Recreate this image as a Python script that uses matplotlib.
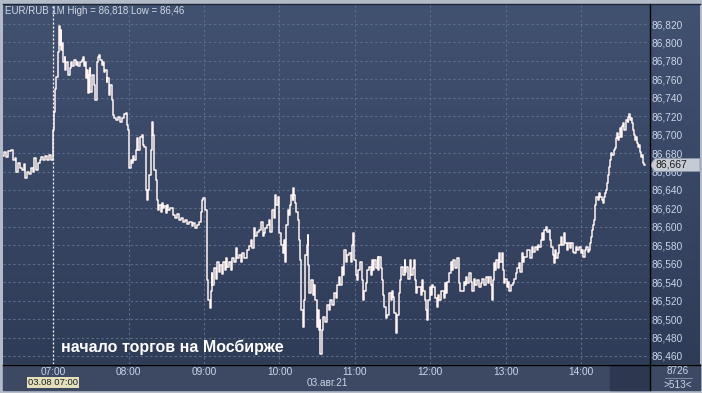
import numpy as np
import matplotlib
matplotlib.use("Agg")
import matplotlib.pyplot as plt
from matplotlib.colors import LinearSegmentedColormap
from matplotlib.patches import Polygon, Rectangle
from matplotlib.lines import Line2D

# EUR/RUB, 1 minute bars, 03.08.21
# time = minutes after 06:20, price = traced high/low path of the bars
minutes = [
    0, 2, 3, 5, 7, 9, 10, 11, 13, 14,
    16, 17, 18, 20, 21, 23, 24, 25, 27, 29,
    30, 31, 33, 34, 36, 37, 39,
    # 07:00 - MOEX opening
    40, 40, 41, 42, 43, 44, 45, 46, 46, 47,
    47, 49, 49, 50, 51, 52, 54, 54, 56, 57,
    59, 59, 61, 62, 63, 64, 65, 66, 66, 67,
    68, 69, 69, 70, 72, 73, 74, 75, 75, 76,
    77, 78, 79, 80, 80, 82, 83, 83, 85, 86,
    87, 88, 89, 91, 92, 94, 95, 97, 98, 99,
    # 08:00
    100, 100, 101, 102, 103, 104, 105, 107, 107, 108,
    110, 111, 112, 113, 114, 115, 115, 117, 118, 119,
    119, 121, 122, 123, 124, 125, 126, 127, 127, 129,
    130, 131, 132, 134, 136, 138, 139, 141, 143, 144,
    146, 147, 149, 151, 152, 154, 155, 157, 158, 159,
    160, 162, 162, 163, 164, 165,
    166, 166, 167, 169, 170, 171, 172, 174, 174, 176,
    177, 178, 179, 181, 182, 183, 185, 186, 187, 189,
    190, 191, 193, 195, 197, 197, 199, 200, 201, 203,
    204, 206, 207, 208, 209, 211, 212, 213, 215, 216,
    217, 218, 219, 220, 220, 222, 223, 224, 225, 225,
    226, 227, 228, 229, 230, 231, 231, 232, 233, 234,
    235, 236, 237, 237, 238, 239, 240, 240, 241, 242,
    243, 243, 244, 246, 247, 248, 249, 250, 251, 252,
    252, 253, 254, 256, 257, 259, 260, 261, 263, 264,
    266, 266, 268, 269, 270, 271, 272, 274, 274, 276,
    277, 278, 279, 279, 280, 281, 282, 283, 285, 286,
    287, 288, 289, 290, 290, 292, 293, 294, 295, 296,
    298, 298, 299, 300, 301, 302, 303, 304, 305, 306,
    308, 309, 310, 311, 312, 313, 314, 316, 316, 318,
    319, 320, 320, 322, 323, 324, 326, 326, 328, 328,
    329, 330, 332, 333, 334, 335, 336, 337, 338, 339,
    340, 341, 342, 343, 344, 346, 346, 348, 349, 350,
    351, 352, 353, 354, 356, 357, 357, 359, 360, 362,
    363, 363, 364, 366, 367, 368, 369, 370, 372, 373,
    374, 375, 376,
    378.7, 379.5, 381.1, 381.9, 383.5, 385.1, 385.9, 387.5, 388.3, 389.8,
    390.6, 391.4, 392.2, 393.0, 394.6, 395.4, 396.2, 397.8, 398.6, 399.4,
    400.2, 401.8, 402.6, 403.4, 405.0, 405.8, 407.3, 408.9, 409.7, 411.3,
    412.1, 413.7, 414.5, 415.3, 416.9, 417.7, 419.3, 420.1, 421.7, 422.5,
    424.1, 424.9, 426.4, 427.2, 428.8, 429.6, 430.4, 431.2, 432.8, 433.6,
    435.2, 436.0, 436.8, 438.4, 439.2, 440.0, 440.8, 442.3, 443.1, 444.7,
    445.5, 447.1, 447.9, 449.5, 450.3, 451.9, 452.7, 454.3, 455.1, 456.7,
    457.5, 459.1, 459.9, 461.4, 462.2, 463.8, 464.6, 466.2, 467.0, 467.8,
    468.6, 469.4, 470.2, 471.0, 471.8, 472.6, 474.2, 475.0, 475.8, 477.4,
    478.1, 478.9, 479.7, 480.5, 481.3, 482.1, 482.9, 483.7, 484.5, 485.3,
    486.9, 487.7, 488.5, 489.3, 490.1, 490.9, 491.7, 492.5, 493.3, 494.1,
    494.9, 496.5, 497.3, 498.0, 498.8, 499.6, 500.4, 501.2, 502.0, 502.8,
    503.6, 504.4, 505.2, 506.0, 506.8, 507.6, 508.4, 509.2, 510.0, 510.8,
]
prices = [
    86.677, 86.681, 86.676, 86.682, 86.683, 86.672, 86.675, 86.659, 86.669, 86.664,
    86.662, 86.668, 86.653, 86.659, 86.657, 86.664, 86.660, 86.675, 86.662, 86.669,
    86.672, 86.676, 86.672, 86.677, 86.673, 86.678, 86.672,
    86.675, 86.705, 86.725, 86.750, 86.762, 86.790, 86.818, 86.797, 86.813, 86.792,
    86.799, 86.779, 86.784, 86.770, 86.779, 86.765, 86.772, 86.779, 86.774, 86.781,
    86.776, 86.779, 86.774, 86.779, 86.781, 86.784, 86.774, 86.779, 86.761, 86.770,
    86.745, 86.765, 86.772, 86.746, 86.765, 86.754, 86.738, 86.767, 86.779, 86.784,
    86.786, 86.781, 86.776, 86.779, 86.768, 86.770, 86.757, 86.761, 86.743, 86.754,
    86.738, 86.721, 86.718, 86.716, 86.719, 86.714, 86.718, 86.722, 86.723, 86.710,
    86.705, 86.672, 86.664, 86.672, 86.669, 86.677, 86.672, 86.683, 86.696, 86.683,
    86.698, 86.700, 86.689, 86.687, 86.640, 86.629, 86.640, 86.656, 86.683, 86.714,
    86.700, 86.662, 86.651, 86.629, 86.618, 86.624, 86.616, 86.626, 86.620, 86.623,
    86.615, 86.624, 86.618, 86.620, 86.613, 86.610, 86.614, 86.607, 86.610, 86.605,
    86.607, 86.603, 86.605, 86.601, 86.604, 86.599, 86.602, 86.605, 86.616, 86.629,
    86.631, 86.618, 86.575, 86.542, 86.521, 86.512,
    86.531, 86.550, 86.537, 86.555, 86.544, 86.562, 86.551, 86.559, 86.549, 86.562,
    86.553, 86.566, 86.557, 86.562, 86.553, 86.566, 86.562, 86.577, 86.566, 86.569,
    86.562, 86.572, 86.566, 86.575, 86.579, 86.586, 86.577, 86.599, 86.590, 86.594,
    86.597, 86.605, 86.590, 86.593, 86.599, 86.602, 86.607, 86.594, 86.618, 86.610,
    86.635, 86.624, 86.632, 86.613, 86.593, 86.580, 86.572, 86.586, 86.562, 86.580,
    86.602, 86.618, 86.613, 86.624, 86.635, 86.629, 86.642, 86.635, 86.626, 86.616,
    86.607, 86.586, 86.564, 86.531, 86.510, 86.491, 86.521, 86.542, 86.569, 86.580,
    86.591, 86.559, 86.528, 86.542, 86.526, 86.537, 86.521, 86.491, 86.510, 86.488,
    86.499, 86.462, 86.488, 86.502, 86.497, 86.515, 86.510, 86.521, 86.515, 86.528,
    86.523, 86.537, 86.546, 86.537, 86.556, 86.548, 86.575, 86.562, 86.569, 86.572,
    86.562, 86.580, 86.593, 86.575, 86.564, 86.548, 86.542, 86.553, 86.562, 86.542,
    86.521, 86.531, 86.539, 86.548, 86.553, 86.556, 86.548, 86.564, 86.553, 86.564,
    86.555, 86.567, 86.553, 86.567, 86.555, 86.542, 86.526, 86.513, 86.501, 86.504,
    86.528, 86.521, 86.531, 86.524, 86.507, 86.485, 86.504, 86.528, 86.542, 86.556,
    86.548, 86.564, 86.551, 86.556, 86.544, 86.564, 86.548, 86.555, 86.564, 86.542,
    86.528, 86.535, 86.535, 86.526, 86.542, 86.531, 86.521, 86.510, 86.499, 86.521,
    86.535, 86.526, 86.537, 86.535, 86.523, 86.513, 86.526, 86.521, 86.531, 86.531,
    86.523, 86.539, 86.528, 86.540, 86.550, 86.562, 86.553, 86.564, 86.555, 86.566,
    86.551, 86.539, 86.531, 86.531, 86.540, 86.537, 86.546, 86.539, 86.550, 86.540,
    86.531, 86.544, 86.537,
    86.542, 86.535, 86.539, 86.544, 86.537, 86.546, 86.539, 86.546, 86.537, 86.521,
    86.542, 86.561, 86.553, 86.564, 86.555, 86.572, 86.562, 86.572, 86.553, 86.539,
    86.544, 86.535, 86.540, 86.531, 86.537, 86.539, 86.544, 86.550, 86.555, 86.561,
    86.551, 86.572, 86.562, 86.567, 86.567, 86.575, 86.575, 86.566, 86.578, 86.573,
    86.578, 86.575, 86.580, 86.578, 86.586, 86.593, 86.586, 86.597, 86.600, 86.594,
    86.597, 86.586, 86.578, 86.569, 86.561, 86.575, 86.566, 86.572, 86.580, 86.589,
    86.580, 86.593, 86.583, 86.575, 86.582, 86.577, 86.582, 86.573, 86.572, 86.578,
    86.575, 86.578, 86.572, 86.575, 86.567, 86.575, 86.578, 86.573, 86.575, 86.582,
    86.589, 86.597, 86.602, 86.607, 86.624, 86.632, 86.629, 86.637, 86.632, 86.629,
    86.626, 86.632, 86.637, 86.640, 86.648, 86.656, 86.665, 86.672, 86.680, 86.678,
    86.683, 86.685, 86.696, 86.702, 86.694, 86.697, 86.707, 86.697, 86.709, 86.713,
    86.705, 86.716, 86.714, 86.719, 86.722, 86.716, 86.718, 86.713, 86.705, 86.700,
    86.694, 86.697, 86.691, 86.687, 86.689, 86.681, 86.676, 86.678, 86.669, 86.667,
]

hour_minutes = [40, 100, 160, 220, 280, 340, 400, 460]
hour_labels = ["07:00", "08:00", "09:00", "10:00", "11:00", "12:00", "13:00", "14:00"]
price_ticks = [86.46, 86.48, 86.50, 86.52, 86.54, 86.56, 86.58, 86.60, 86.62, 86.64,
               86.66, 86.68, 86.70, 86.72, 86.74, 86.76, 86.78, 86.80, 86.82]
open_minute = 40
last_price = 86.667
title = "EUR/RUB 1M High = 86,818 Low = 86,46"
note = "начало торгов на Мосбирже"

W, H = 702, 393
TXT = "#c9d5e8"
GRID = "#5c6b88"
FONT = "Liberation Sans"


def fr(x0, y0, x1, y1):
    # pixel box (top-left origin) -> figure fraction rect
    return [x0 / W, 1 - y1 / H, (x1 - x0) / W, (y1 - y0) / H]


fig = plt.figure(figsize=(W / 100, H / 100), dpi=100, facecolor="#b3bbc8")

# navy gradient behind plot and price panel
bg = fig.add_axes(fr(3, 4, 700, 364), zorder=-2)
cmap = LinearSegmentedColormap.from_list("navy", ["#415170", "#2f3c58"])
bg.imshow(np.linspace(0, 1, 200).reshape(-1, 1), cmap=cmap, aspect="auto",
          extent=[0, 1, 0, 1])
bg.axis("off")

# bottom time strip
fig.add_artist(Rectangle((3 / W, 1 - 390 / H), 697 / W, 26 / H,
                         transform=fig.transFigure, color="#3d4962", zorder=-1))
fig.add_artist(Rectangle((610 / W, 1 - 390 / H), 39 / W, 25 / H,
                         transform=fig.transFigure, color="#2d3850", zorder=-1))

ax = fig.add_axes(fr(3, 4, 649, 364))
ax.patch.set_alpha(0)
ax.set_xlim(0, 514)
ax.set_ylim(86.4513, 86.8417)

for p in price_ticks:
    ax.axhline(p, color=GRID, lw=0.8, ls=(0, (2.2, 2.2)), zorder=1)
for m in hour_minutes[1:]:
    ax.axvline(m, color=GRID, lw=0.8, ls=(0, (2.2, 2.2)), zorder=1)
ax.axvline(open_minute, color="white", lw=0.9, ls=(0, (1.6, 1.6)), zorder=2)

ax.plot(minutes, prices, color="#fff3f3", lw=1.1, drawstyle="steps-mid", zorder=3)

ax.yaxis.tick_right()
ax.set_yticks(price_ticks)
ax.set_yticklabels([f"{p:.3f}".replace(".", ",") for p in price_ticks])
ax.set_xticks(hour_minutes)
ax.set_xticklabels(hour_labels)
ax.tick_params(axis="y", length=0, pad=2.0, labelsize=7.3, labelcolor=TXT)
ax.tick_params(axis="x", length=0, pad=2.0, labelsize=7.3, labelcolor=TXT)
for lab in ax.get_xticklabels() + ax.get_yticklabels():
    lab.set_family(FONT)
for s in ax.spines.values():
    s.set_visible(False)

# separators
fig.add_artist(Line2D([649.5 / W, 649.5 / W], [1 - 4 / H, 1 - 390 / H], color="black", lw=1))
fig.add_artist(Line2D([3 / W, 700 / W], [1 - 364.5 / H, 1 - 364.5 / H], color="black", lw=1))
fig.add_artist(Line2D([3 / W, 700 / W], [1 - 3.5 / H, 1 - 3.5 / H], color="#1e2638", lw=1))

# last price tag
tag = Polygon([(650, 165), (655, 158.5), (700, 158.5), (700, 171.5), (655, 171.5)], closed=True,
              facecolor="#c5cbd4", edgecolor="#8d96a6", lw=0.6)
tag.set_xy([(x / W, 1 - y / H) for x, y in tag.get_xy()])
tag.set_transform(fig.transFigure)
fig.add_artist(tag)
fig.text(655 / W, 1 - 165 / H, f"{last_price:.3f}".replace(".", ","), ha="left", va="center",
         fontsize=7.5, color="#1c1c1c", family=FONT)

# texts
fig.text(5 / W, 1 - 11 / H, title, ha="left", va="center", fontsize=7.0, color="#d2dae6",
         family=FONT)
ax.text(open_minute + 6, 86.469, note, ha="left", va="center", fontsize=11.5,
        fontweight="bold", color="white", family=FONT, zorder=4)

fig.text(53 / W, 1 - 382.5 / H, "03.08 07:00", ha="center", va="center", fontsize=6.8,
         color="#202020", family=FONT,
         bbox=dict(boxstyle="square,pad=0.15", fc="#e4e0bc", ec="none"))
fig.text(327 / W, 1 - 383 / H, "03.авг.21", ha="center", va="center", fontsize=7.2,
         color=TXT, family=FONT)
fig.text(678 / W, 1 - 371 / H, "8726", ha="center", va="center", fontsize=7.2,
         color=TXT, family=FONT)
fig.add_artist(Line2D([665 / W, 692 / W], [1 - 377.5 / H, 1 - 377.5 / H], color="#8a97ad", lw=0.6))
fig.text(678 / W, 1 - 384.5 / H, ">513<", ha="center", va="center", fontsize=7.2,
         color=TXT, family=FONT)

fig.savefig("out.png", dpi=100, facecolor=fig.get_facecolor())
